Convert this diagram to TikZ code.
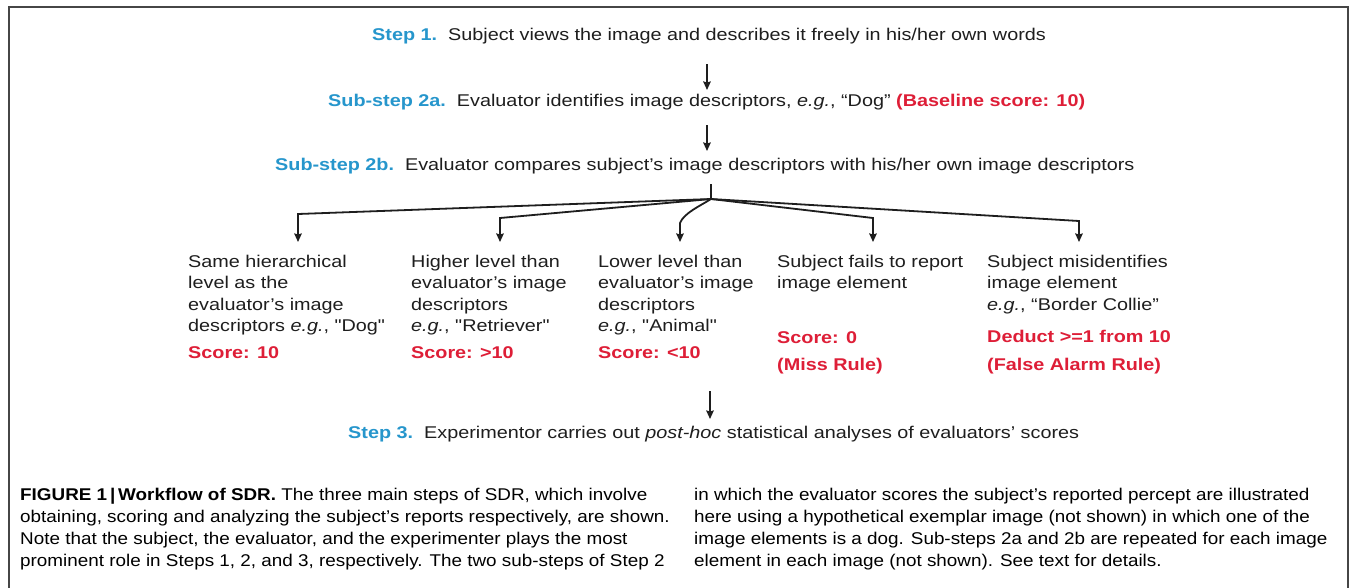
\documentclass[tikz,border=0pt]{standalone}
\usepackage{fontspec}
\setmainfont{Liberation Sans}
\newfontfamily\diafont{Liberation Sans}[FakeStretch=1.165]
\newfontfamily\capfont{Liberation Sans}[FakeStretch=1.11]
\usetikzlibrary{arrows.meta}
\definecolor{stepblue}{RGB}{38,150,204}
\definecolor{scorered}{RGB}{222,30,55}
\definecolor{framegray}{RGB}{70,70,70}
\definecolor{inkgray}{RGB}{30,30,30}
\begin{document}
\begin{tikzpicture}[x=1pt,y=-1pt,
  txt/.style={inner sep=0pt, font=\diafont\fontsize{17}{21.5}\selectfont, text=inkgray, anchor=base west},
  coltxt/.style={txt, align=left, anchor=north west},
  scoretxt/.style={txt, font=\diafont\fontsize{17}{21.5}\selectfont\bfseries, text=scorered},
  captxt/.style={inner sep=0pt, font=\capfont\fontsize{17}{22.3}\selectfont, text=black, align=left, anchor=north west},
  arr/.style={-{Stealth[length=8.5pt,width=7.5pt,inset=1pt]}, line width=1.8pt, draw=inkgray},
  branch/.style={line width=1.8pt, draw=inkgray},
]
\useasboundingbox (0,0) rectangle (1352,587);
\fill[white] (0,0) rectangle (1352,587);
\draw[framegray, line width=1.8pt] (9,592) -- (9,7) -- (1348,7) -- (1348,592);

% main step lines
\node[txt] (s1) at (372,40) {\textcolor{stepblue}{\bfseries Step 1.}\ \ Subject views the image and describes it freely in his/her own words};
\node[txt] (s2a) at (328,106) {\textcolor{stepblue}{\bfseries Sub-step 2a.}\ \ Evaluator identifies image descriptors, \textit{e.g.}, “Dog” \textcolor{scorered}{\bfseries (Baseline score: 10)}};
\node[txt] (s2b) at (275,170) {\textcolor{stepblue}{\bfseries Sub-step 2b.}\ \ Evaluator compares subject’s image descriptors with his/her own image descriptors};
\node[txt] (s3) at (348,438) {\textcolor{stepblue}{\bfseries Step 3.}\ \ Experimentor carries out \textit{post-hoc} statistical analyses of evaluators’ scores};

% vertical arrows
\coordinate (a1s) at (707,64); \coordinate (a1e) at (707,90);
\coordinate (a2s) at (707,125); \coordinate (a2e) at (707,151);
\coordinate (a3s) at (710,391); \coordinate (a3e) at (710,419);
\draw[arr] (a1s) -- (a1e);
\draw[arr] (a2s) -- (a2e);
\draw[arr] (a3s) -- (a3e);

% branching
\coordinate (hubtop) at (711,184);
\coordinate (hub) at (711,199);
\coordinate (k1) at (298,214); \coordinate (e1) at (298,242);
\coordinate (k2) at (500,218); \coordinate (e2) at (500,242);
\coordinate (k3) at (680,223); \coordinate (e3) at (680,242);
\coordinate (k4) at (873,218); \coordinate (e4) at (873,242);
\coordinate (k5) at (1079,221); \coordinate (e5) at (1079,242);
\draw[branch] (hubtop) -- (hub);
\draw[arr] (hub) -- (k1) -- (e1);
\draw[arr] (hub) -- (k2) -- (e2);
\draw[arr] (hub) .. controls (700,206) and (684,213) .. (k3) -- (e3);
\draw[arr] (hub) -- (k4) -- (e4);
\draw[arr] (hub) -- (k5) -- (e5);

% columns
\node[coltxt] (c1) at (188,254.5) {Same hierarchical\\level as the\\evaluator’s image\\descriptors \textit{e.g.}, "Dog"};
\node[coltxt] (c2) at (411,254.5) {Higher level than\\evaluator’s image\\descriptors\\\textit{e.g.}, "Retriever"};
\node[coltxt] (c3) at (598,254.5) {Lower level than\\evaluator’s image\\descriptors\\\textit{e.g.}, "Animal"};
\node[coltxt] (c4) at (777,254.5) {Subject fails to report\\image element};
\node[coltxt] (c5) at (987,254.5) {Subject misidentifies\\image element\\\textit{e.g.}, “Border Collie”};

\node[scoretxt] (r1) at (188,358) {Score: 10};
\node[scoretxt] (r2) at (411,358) {Score: >10};
\node[scoretxt] (r3) at (598,358) {Score: <10};
\node[scoretxt] (r4a) at (777,343) {Score: 0};
\node[scoretxt] (r4b) at (777,370) {(Miss Rule)};
\node[scoretxt] (r5a) at (987,342) {Deduct >=1 from 10};
\node[scoretxt] (r5b) at (987,370) {(False Alarm Rule)};

% caption
\node[captxt] (capL) at (20,487.5) {\textbf{FIGURE 1\,|\,Workflow of SDR.} The three main steps of SDR, which involve\\obtaining, scoring and analyzing the subject’s reports respectively, are shown.\\Note that the subject, the evaluator, and the experimenter plays the most\\prominent role in Steps 1, 2, and 3, respectively. The two sub-steps of Step 2};
\node[captxt] (capR) at (694,487.5) {in which the evaluator scores the subject’s reported percept are illustrated\\here using a hypothetical exemplar image (not shown) in which one of the\\image elements is a dog. Sub-steps 2a and 2b are repeated for each image\\element in each image (not shown). See text for details.};
\end{tikzpicture}
\end{document}
